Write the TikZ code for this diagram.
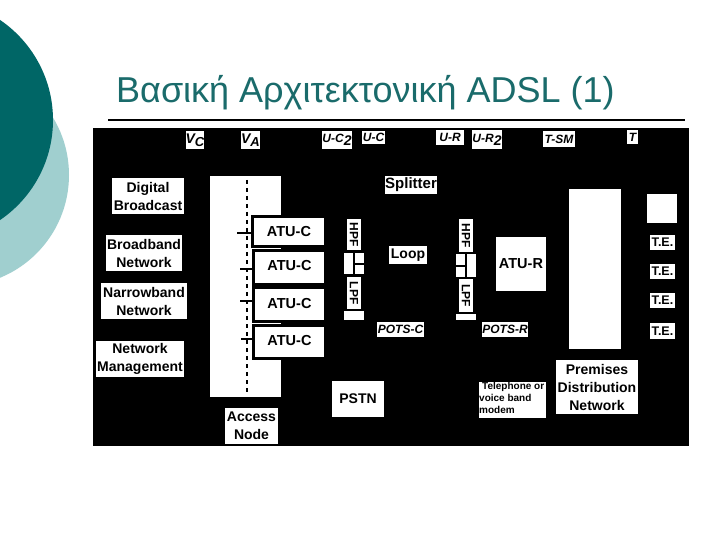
\documentclass[tikz,border=0pt]{standalone}
\usepackage{fontspec}
\usepackage{graphicx}
\setmainfont{Liberation Sans}
\definecolor{darkteal}{HTML}{006666}
\definecolor{lightteal}{HTML}{A0CFCF}
\definecolor{titleteal}{HTML}{1A6B6B}
\newcommand{\fs}[1]{\fontsize{#1}{18}\selectfont}
\newcommand{\wbox}[6][]{%
  \pgfmathsetmacro{\wcx}{(#3+#5)/2}%
  \pgfmathsetmacro{\wcy}{(#4+#6)/2}%
  \pgfmathsetmacro{\wwd}{#5-#3}%
  \pgfmathsetmacro{\wht}{#6-#4}%
  \node[whitebox,minimum width=\wwd pt,minimum height=\wht pt,#1] (#2) at (\wcx,\wcy)}
\newcommand{\low}[1]{\raisebox{-3pt}{#1}}
\newcommand{\up}[2]{\raisebox{#1pt}{#2}}
\tikzset{
  whitebox/.style={fill=white,draw=none,inner sep=0pt,outer sep=0pt,align=center,text=black,font=\bfseries\fs{14}},
  ifacelabel/.style={font=\bfseries\itshape\fs{12}},
  atubox/.style={draw=black,line width=3pt,font=\bfseries\fs{14.5}},
  rot/.style={font=\bfseries\fs{12}},
  wire/.style={draw=black,line width=2.5pt},
}
\begin{document}
\begin{tikzpicture}[x=1pt,y=-1pt]
\useasboundingbox (0,0) rectangle (720,540);
\fill[white] (0,0) rectangle (720,540);
\begin{scope}
\clip (0,0) rectangle (720,540);
\fill[lightteal] (-42,175) circle[radius=111];
\fill[darkteal] (-68,120) circle[radius=121];
\end{scope}
\node[anchor=base west,inner sep=0pt,text=titleteal,font=\fs{36}] (title) at (116,102.5) {Βασική Αρχιτεκτονική ADSL (1)};
\coordinate (ruleL) at (108,120);
\coordinate (ruleR) at (685,120);
\draw[black,line width=2pt] (ruleL) -- (ruleR);
\fill[black] (93,128) rectangle (689,446);

% interface labels
\wbox[ifacelabel,font=\bfseries\itshape\fs{14}]{vc}{187}{131}{203}{149}{V\low{\fs{13}C}};
\wbox[ifacelabel,font=\bfseries\itshape\fs{14}]{va}{242}{131}{259}{149}{V\low{\fs{13}A}};
\wbox[ifacelabel]{uc2}{323}{131}{351}{149}{U-C\low{\fs{14}2}};
\wbox[ifacelabel]{uc}{362}{131}{385}{144}{U-C};
\wbox[ifacelabel]{ur}{436}{130}{464}{145}{U-R};
\wbox[ifacelabel]{ur2}{473}{130}{501}{149}{U-R\low{\fs{14}2}};
\wbox[ifacelabel]{tsm}{543}{131}{575}{147}{T-SM};
\wbox[ifacelabel]{t}{627}{130}{638}{144}{T};
\wbox[ifacelabel]{potsc}{377}{322}{424}{337}{POTS-C};
\wbox[ifacelabel]{potsr}{482}{322}{528}{337}{POTS-R};

% networks on the left
\wbox{digital}{112}{178}{184}{214}{Digital\\Broadcast};
\wbox{broadband}{106}{235}{182}{271}{Broadband\\Network};
\wbox{narrowband}{101}{283}{187}{319}{Narrowband\\Network};
\wbox{mgmt}{96}{341}{184}{377}{Network\\Management};

% access node
\wbox{access}{210}{176}{281}{397}{};
\wbox{accesslabel}{225}{408}{278}{444}{Access\\Node};
\coordinate (dashT) at (247,180);
\coordinate (dashB) at (247,393);
\draw[black,line width=2pt,dash pattern=on 4pt off 4pt] (dashT) -- (dashB);

\wbox[atubox]{atua}{252.5}{216.5}{325.5}{246.5}{ATU-C};
\wbox[atubox]{atub}{253.5}{250.5}{325.5}{284.5}{\up{4}{ATU-C}};
\wbox[atubox]{atuc}{253.5}{287.5}{325.5}{321.5}{\up{2}{ATU-C}};
\wbox[atubox]{atud}{253.5}{325.5}{325.5}{358.5}{\up{4}{ATU-C}};
\coordinate (stuba) at (237,233);
\coordinate (stubb) at (240,269);
\coordinate (stubc) at (240,301);
\coordinate (stubd) at (241,339);
\draw[wire] (stuba) -- (stuba -| atua.west);
\draw[wire] (stubb) -- (stubb -| atub.west);
\draw[wire] (stubc) -- (stubc -| atuc.west);
\draw[wire] (stubd) -- (stubd -| atud.west);

% central-office splitter
\wbox[rot]{hpfc}{347}{219}{361}{250}{\rotatebox{-90}{HPF}};
\wbox{splitc}{344}{253}{364}{274}{};
\wbox[rot]{lpfc}{347}{277}{361}{309}{\rotatebox{-90}{LPF}};
\wbox{basec}{344}{311}{364}{320}{};
\draw[black,line width=2pt] (splitc.north) -- (splitc.south);
\draw[black,line width=2pt] (splitc.center) -- (splitc.east);

% remote splitter
\wbox[rot]{hpfr}{459}{219}{473}{252}{\rotatebox{-90}{HPF}};
\wbox{splitr}{456}{254}{476}{277}{};
\wbox[rot]{lpfr}{459}{279}{473}{312}{\rotatebox{-90}{LPF}};
\wbox{baser}{456}{314}{476}{320}{};
\draw[black,line width=2pt] (splitr.north) -- (splitr.south);
\draw[black,line width=2pt] (splitr.center) -- (splitr.west);

\wbox[font=\bfseries\fs{15}]{splitter}{385}{176}{437}{194}{Splitter};
\wbox{loop}{389}{246}{427}{264}{Loop};
\wbox{pstn}{332}{381}{384}{417}{PSTN};
\wbox[font=\bfseries\fs{14.5}]{atur}{496}{237}{546}{291}{ATU-R};
\wbox{phone}{479}{382}{546}{418}{};
\node[anchor=north west,inner sep=0pt,align=left,font=\bfseries\fontsize{10}{12}\selectfont] (phonetext) at (phone.north west) {\hspace{3pt}Telephone or\\voice band\\modem};

% premises
\wbox{pdn}{569}{189}{621}{349}{};
\wbox{pdnlabel}{556}{360}{638}{414}{Premises\\Distribution\\Network};
\wbox{te0}{647}{194}{677}{223}{};
\wbox[font=\bfseries\fs{12.5}]{tea}{650}{235}{675}{250}{T.E.};
\wbox[font=\bfseries\fs{12.5}]{teb}{650}{264}{675}{279}{T.E.};
\wbox[font=\bfseries\fs{12.5}]{tec}{650}{293}{675}{308}{T.E.};
\wbox[font=\bfseries\fs{12.5}]{ted}{650}{323}{675}{339}{T.E.};
\end{tikzpicture}
\end{document}
